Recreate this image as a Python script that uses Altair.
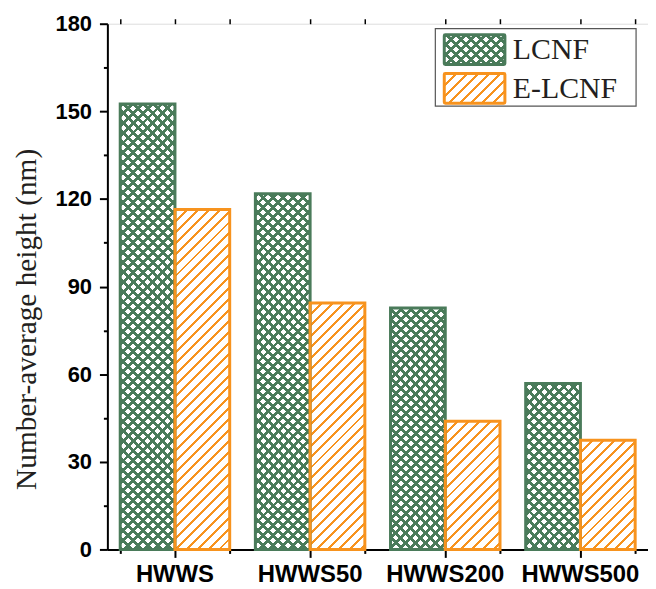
import altair as alt
import pandas as pd

# ---- data ----
categories = ["HWWS", "HWWS50", "HWWS200", "HWWS500"]
series = ["LCNF", "E-LCNF"]
lcnf = [152.5, 121.8, 82.7, 56.8]
elcnf = [116.4, 84.4, 43.9, 37.4]
y_ticks = [0, 30, 60, 90, 120, 150, 180]
y_minor = [15, 45, 75, 105, 135, 165]
y_title = "Number-average height (nm)"

# ---- style ----
GREEN = "#4a7b5a"
ORANGE = "#f7931e"
CLEAR = "rgba(255,255,255,0)"
W, H = 544, 529
YMAX = 180
PAD_INNER = 0.19
step = W / len(categories)
bar_w = step * (1 - PAD_INNER) / 2


def stripes(w, h, period, frac, line, gap, direction):
    S = w + h
    k = S / (w * w + h * h)
    if direction == "/":
        x1, y1, x2, y2 = 0, 0, w * k, h * k
    else:
        x1, y1, x2, y2 = 0, 1, w * k, 1 - h * k
    stops = []
    i = 0
    while True:
        a = i * period / S
        if a >= 1:
            break
        b = min(1.0, a + frac * period / S)
        c = min(1.0, (i + 1) * period / S)
        stops += [
            {"offset": round(a, 5), "color": line},
            {"offset": round(b, 5), "color": line},
            {"offset": round(b, 5), "color": gap},
            {"offset": round(c, 5), "color": gap},
        ]
        i += 1
    return {"gradient": "linear", "x1": round(x1, 5), "y1": round(y1, 5),
            "x2": round(x2, 5), "y2": round(y2, 5), "stops": stops}


df = pd.DataFrame({
    "category": categories * 2,
    "series": [series[0]] * len(categories) + [series[1]] * len(categories),
    "value": lcnf + elcnf,
})

x_scale = alt.Scale(domain=categories, paddingInner=PAD_INNER, paddingOuter=PAD_INNER / 2)
xo_scale = alt.Scale(domain=series, paddingInner=0, paddingOuter=0)
y_scale = alt.Scale(domain=[0, YMAX], nice=False, zero=True)

lab = dict(labelFont="Liberation Sans", labelFontWeight="bold", labelColor="black")
tk = dict(tickColor="black", grid=False, title=None)

x_axes = [
    alt.Axis(orient="bottom", labelFontSize=24, labelPadding=24, labelAngle=0,
             labelBaseline="alphabetic",
             tickSize=8, tickWidth=2, domainColor="black", domainWidth=2, **lab, **tk),
    alt.Axis(orient="bottom", labels=False, tickBand="extent", tickSize=4, tickWidth=2,
             domain=False, **tk),
    alt.Axis(orient="top", labels=False, tickSize=5, tickWidth=1.5, domain=False, **tk),
    alt.Axis(orient="top", labels=False, tickBand="extent", tickSize=5, tickWidth=1.5,
             domain=False, **tk),
]
y_axes = [
    alt.Axis(orient="left", values=y_ticks, labelFontSize=22, labelPadding=8,
             tickSize=8, tickWidth=2, domainColor="black", domainWidth=2,
             title=y_title, titleFont="Liberation Serif", titleFontSize=29.5,
             titleFontWeight="normal", titleColor="#231f20", titleAngle=270,
             titleX=-81, titleY=297, titleAlign="center", titleBaseline="middle",
             grid=False, tickColor="black", **lab),
    alt.Axis(orient="left", values=y_minor, labels=False, tickSize=4, tickWidth=2,
             domain=False, **tk),
]


def enc(idx):
    xa = x_axes[idx] if idx < len(x_axes) else None
    ya = y_axes[idx] if idx < len(y_axes) else None
    kw = {}
    kw["x"] = alt.X("category:N", scale=x_scale, axis=xa) if xa is not None else alt.X("category:N", scale=x_scale, axis=None)
    kw["y"] = alt.Y("value:Q", scale=y_scale, axis=ya) if ya is not None else alt.Y("value:Q", scale=y_scale, axis=None)
    kw["xOffset"] = alt.XOffset("series:N", scale=xo_scale)
    return kw


layers = []
idx = 0
for s in series:
    for c in categories:
        v = float(df[(df.category == c) & (df.series == s)].value.iloc[0])
        h = v / YMAX * H
        flt = (alt.datum.category == c) & (alt.datum.series == s)
        if s == series[0]:
            g1 = stripes(bar_w, h, 10, 0.4, GREEN, "white", "/")
            g2 = stripes(bar_w, h, 10, 0.4, GREEN, CLEAR, "\\")
            layers.append(alt.Chart(df).transform_filter(flt)
                          .mark_bar(fill=g1, strokeWidth=0).encode(**enc(idx)))
            idx += 1
            layers.append(alt.Chart(df).transform_filter(flt)
                          .mark_bar(fill=g2, strokeWidth=0).encode(**enc(idx)))
            idx += 1
        else:
            g = stripes(bar_w, h, 11, 0.27, ORANGE, "white", "/")
            layers.append(alt.Chart(df).transform_filter(flt)
                          .mark_bar(fill=g, strokeWidth=0).encode(**enc(idx)))
            idx += 1

for s, col in zip(series, [GREEN, ORANGE]):
    layers.append(alt.Chart(df).transform_filter(alt.datum.series == s)
                  .mark_bar(fill="transparent", stroke=col, strokeWidth=3)
                  .encode(**enc(99)))

# ---- legend (annotation) ----
leg_df = pd.DataFrame({"series": series})
layers.append(alt.Chart(leg_df).transform_filter(alt.datum.series == series[0])
              .mark_rect(fill="white", stroke="#555555", strokeWidth=1.2)
              .encode(x=alt.value(330), x2=alt.value(532), y=alt.value(5), y2=alt.value(83)))
sw_w, sw_h = 61, 30
sw_specs = [
    (series[0], 11, [stripes(sw_w, sw_h, 10, 0.4, GREEN, "white", "/"),
                     stripes(sw_w, sw_h, 10, 0.4, GREEN, CLEAR, "\\")], GREEN, 36),
    (series[1], 50, [stripes(sw_w, sw_h, 11, 0.27, ORANGE, "white", "/")], ORANGE, 75),
]
for s, ytop, grads, col, base in sw_specs:
    for g in grads:
        layers.append(alt.Chart(leg_df).transform_filter(alt.datum.series == s)
                      .mark_rect(fill=g, strokeWidth=0)
                      .encode(x=alt.value(339), x2=alt.value(400), y=alt.value(ytop), y2=alt.value(ytop + sw_h)))
    layers.append(alt.Chart(leg_df).transform_filter(alt.datum.series == s)
                  .mark_rect(fill="transparent", stroke=col, strokeWidth=3, cornerRadius=1)
                  .encode(x=alt.value(339), x2=alt.value(400), y=alt.value(ytop), y2=alt.value(ytop + sw_h)))
    layers.append(alt.Chart(leg_df).transform_filter(alt.datum.series == s)
                  .mark_text(font="Liberation Serif", fontSize=30, align="left",
                             baseline="alphabetic", color="#231f20")
                  .encode(x=alt.value(408), y=alt.value(base), text="series:N"))

chart = (
    alt.layer(*layers)
    .resolve_axis(x="independent", y="independent")
    .properties(width=W, height=H,
                autosize=alt.AutoSizeParams(type="none"),
                padding={"left": 100, "top": 14, "right": 0, "bottom": 38})
    .configure_view(stroke="#231f20", strokeWidth=1.5)
    .configure(background="white")
)

chart.save("out.html", embed_options={"renderer": "svg", "actions": False})
